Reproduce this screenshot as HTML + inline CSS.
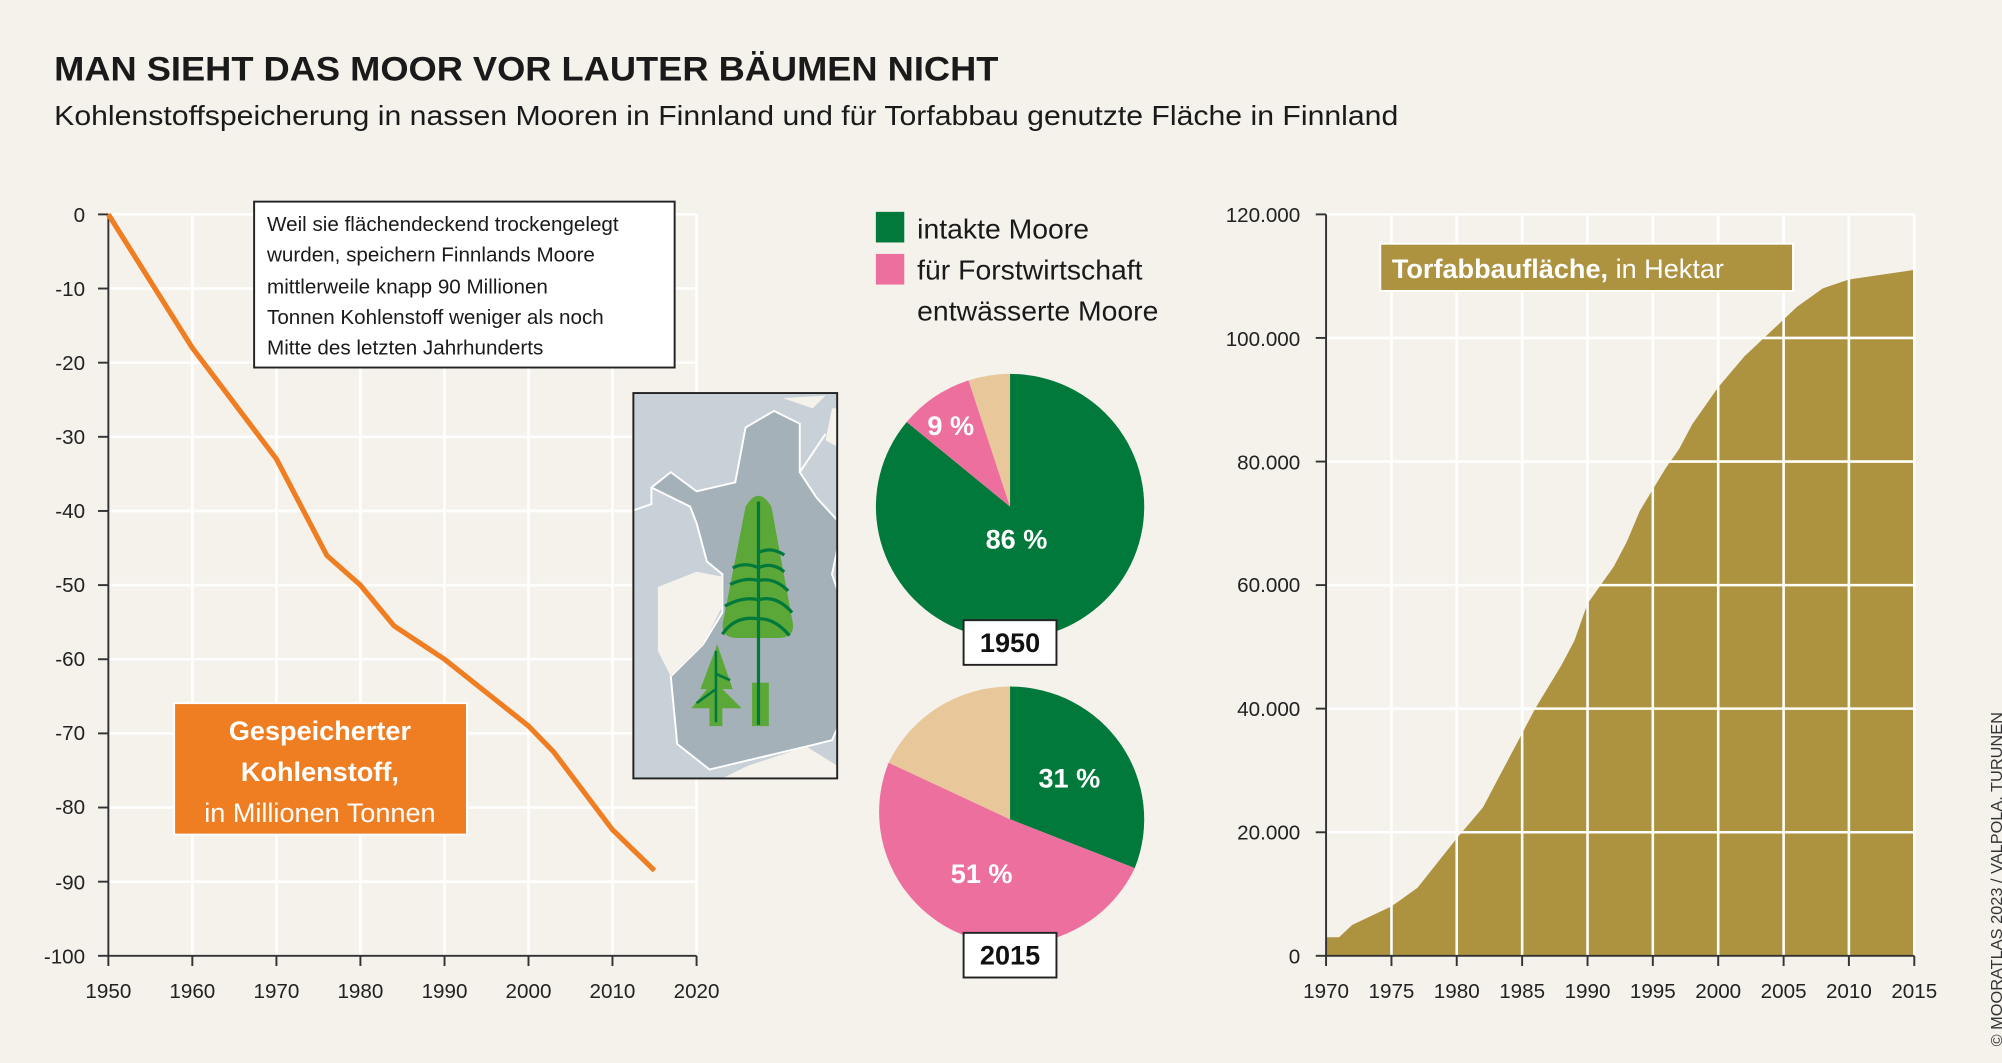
<!DOCTYPE html>
<html><head><meta charset="utf-8"><style>
html,body{margin:0;padding:0;background:#f5f2ec;}
svg{display:block;font-family:"Liberation Sans","DejaVu Sans",sans-serif;}
</style></head><body>
<svg width="2002" height="1063" viewBox="0 0 1552 833" preserveAspectRatio="none" xmlns="http://www.w3.org/2000/svg">
<defs><clipPath id="mc"><rect x="491" y="308" width="158" height="302"/></clipPath></defs>
<rect width="1552" height="833" fill="#f5f2ec"/>
<text x="42" y="63" font-size="27" font-weight="bold" fill="#1a1a1a" textLength="732" lengthAdjust="spacingAndGlyphs">MAN SIEHT DAS MOOR VOR LAUTER BÄUMEN NICHT</text>
<text x="42" y="98" font-size="22" fill="#1a1a1a" textLength="1042" lengthAdjust="spacingAndGlyphs">Kohlenstoffspeicherung in nassen Mooren in Finnland und für Torfabbau genutzte Fläche in Finnland</text>

<g stroke="#ffffff" stroke-width="2">
<line x1="149.1" y1="168" x2="149.1" y2="749"/><line x1="214.3" y1="168" x2="214.3" y2="749"/><line x1="279.4" y1="168" x2="279.4" y2="749"/><line x1="344.6" y1="168" x2="344.6" y2="749"/><line x1="409.7" y1="168" x2="409.7" y2="749"/><line x1="474.8" y1="168" x2="474.8" y2="749"/><line x1="540" y1="168" x2="540" y2="749"/>
<line x1="84" y1="168" x2="540" y2="168"/><line x1="84" y1="226.1" x2="540" y2="226.1"/><line x1="84" y1="284.2" x2="540" y2="284.2"/><line x1="84" y1="342.3" x2="540" y2="342.3"/><line x1="84" y1="400.4" x2="540" y2="400.4"/><line x1="84" y1="458.5" x2="540" y2="458.5"/><line x1="84" y1="516.6" x2="540" y2="516.6"/><line x1="84" y1="574.7" x2="540" y2="574.7"/><line x1="84" y1="632.8" x2="540" y2="632.8"/><line x1="84" y1="690.9" x2="540" y2="690.9"/>
</g>
<g stroke="#333" stroke-width="1.5">
<line x1="84" y1="168" x2="84" y2="757"/><line x1="84" y1="749" x2="540" y2="749"/>
<line x1="149.1" y1="749" x2="149.1" y2="757"/><line x1="214.3" y1="749" x2="214.3" y2="757"/><line x1="279.4" y1="749" x2="279.4" y2="757"/><line x1="344.6" y1="749" x2="344.6" y2="757"/><line x1="409.7" y1="749" x2="409.7" y2="757"/><line x1="474.8" y1="749" x2="474.8" y2="757"/><line x1="540" y1="749" x2="540" y2="757"/>
<line x1="76" y1="168" x2="84" y2="168"/><line x1="76" y1="226.1" x2="84" y2="226.1"/><line x1="76" y1="284.2" x2="84" y2="284.2"/><line x1="76" y1="342.3" x2="84" y2="342.3"/><line x1="76" y1="400.4" x2="84" y2="400.4"/><line x1="76" y1="458.5" x2="84" y2="458.5"/><line x1="76" y1="516.6" x2="84" y2="516.6"/><line x1="76" y1="574.7" x2="84" y2="574.7"/><line x1="76" y1="632.8" x2="84" y2="632.8"/><line x1="76" y1="690.9" x2="84" y2="690.9"/><line x1="76" y1="749" x2="84" y2="749"/>
</g>
<g font-size="16" fill="#222" text-anchor="end">
<text x="66" y="174">0</text><text x="66" y="232">-10</text><text x="66" y="290">-20</text><text x="66" y="348">-30</text><text x="66" y="406">-40</text><text x="66" y="464">-50</text><text x="66" y="522">-60</text><text x="66" y="580">-70</text><text x="66" y="638">-80</text><text x="66" y="697">-90</text><text x="66" y="755">-100</text>
</g>
<g font-size="16" fill="#222" text-anchor="middle">
<text x="84" y="782">1950</text><text x="149.1" y="782">1960</text><text x="214.3" y="782">1970</text><text x="279.4" y="782">1980</text><text x="344.6" y="782">1990</text><text x="409.7" y="782">2000</text><text x="474.8" y="782">2010</text><text x="540" y="782">2020</text>
</g>
<polyline fill="none" stroke="#ef7d22" stroke-width="4" stroke-linejoin="round" points="84,168 149.1,272.6 214.3,359.7 253.4,435.3 279.4,458.5 305.5,490.5 344.6,516.6 409.7,568.9 429.2,589.2 474.8,650.2 507.4,682.2"/>

<rect x="197" y="158" width="326" height="130" fill="#fff" stroke="#222" stroke-width="1.5"/>
<g font-size="16" fill="#1a1a1a">
<text x="207" y="181">Weil sie flächendeckend trockengelegt</text>
<text x="207" y="205">wurden, speichern Finnlands Moore</text>
<text x="207" y="230">mittlerweile knapp 90 Millionen</text>
<text x="207" y="254">Tonnen Kohlenstoff weniger als noch</text>
<text x="207" y="278">Mitte des letzten Jahrhunderts</text>
</g>

<rect x="135" y="551" width="227" height="103" fill="#ef7d22" stroke="#fff" stroke-width="1.5"/>
<g fill="#fff" text-anchor="middle" font-size="21">
<text x="248" y="580" font-weight="bold">Gespeicherter</text>
<text x="248" y="612" font-weight="bold">Kohlenstoff,</text>
<text x="248" y="644">in Millionen Tonnen</text>
</g>

<g clip-path="url(#mc)">
<rect x="491" y="308" width="158" height="302" fill="#c9d1d8"/>
<path d="M505,382 L520,370 L540,385 L570,378 L578,335 L600,322 L620,332 L620,370 L633,390 L653,412 L645,450 L662,500 L655,525 L665,535 L645,580 L625,585 L550,603 L525,583 L520,530 L545,505 L560,480 L560,450 L548,440 L540,410 L535,397 Z" fill="#a5b1b8" stroke="#fff" stroke-width="1.5"/>
<path d="M491,400 L505,395 L505,382" fill="none" stroke="#fff" stroke-width="1.5"/>
<path d="M620,370 L640,340" fill="none" stroke="#fff" stroke-width="1.5"/>
<path d="M510,460 L540,448 L560,452 L560,475 L545,505 L520,530 L510,510 Z" fill="#f5f2ec"/>
<path d="M640,345 L645,320 L649,320 L649,350 Z" fill="#f5f2ec"/>
<path d="M560,610 L580,600 L625,585 L649,600 L649,610 Z" fill="#f5f2ec"/>
<path d="M607,312 L630,320 L640,310 Z" fill="#f5f2ec"/>
<rect x="583" y="535" width="13" height="34" fill="#5ba838"/>
<path d="M578,397 Q588,380 598,397 L614,485 Q618,500 603,500 L572,500 Q557,500 561,485 Z" fill="#5ba838"/>
<line x1="588" y1="393" x2="588" y2="568" stroke="#00793b" stroke-width="2.5"/>
<g fill="none" stroke="#00793b" stroke-width="2.5">
<path d="M588,433 Q598,428 608,435"/><path d="M568,445 Q578,440 588,445 Q598,440 608,448"/><path d="M566,458 Q578,452 588,455 Q600,452 611,463"/><path d="M562,475 Q576,467 588,470 Q602,466 614,480"/><path d="M560,497 Q570,482 588,485 Q600,484 612,498"/>
</g>
<path d="M556,505 L568,540 L560,540 L575,555 L536,555 L548,540 L543,540 Z" fill="#5ba838"/>
<rect x="550" y="554" width="10" height="15" fill="#5ba838"/>
<g stroke="#00793b" stroke-width="2" fill="none"><line x1="555" y1="510" x2="555" y2="566"/><path d="M555,540 L540,551"/><path d="M555,528 L566,533"/></g>
</g>
<rect x="491" y="308" width="158" height="302" fill="none" stroke="#222" stroke-width="1.5"/>

<rect x="679" y="166" width="22" height="24" fill="#00793b"/>
<rect x="679" y="199" width="22" height="24" fill="#ed6f9e"/>
<g font-size="22" fill="#1a1a1a">
<text x="711" y="187">intakte Moore</text>
<text x="711" y="219">für Forstwirtschaft</text>
<text x="711" y="251">entwässerte Moore</text>
</g>

<path d="M783,397 L783,293 A104,104 0 1,1 702.9,330.7 Z" fill="#00793b"/>
<path d="M783,397 L702.9,330.7 A104,104 0 0,1 750.9,298.1 Z" fill="#ed6f9e"/>
<path d="M783,397 L750.9,298.1 A104,104 0 0,1 783,293 Z" fill="#e8c89b"/>
<text x="788" y="430" font-size="21" font-weight="bold" fill="#fff" text-anchor="middle">86 %</text>
<text x="737" y="341" font-size="21" font-weight="bold" fill="#fff" text-anchor="middle">9 %</text>
<rect x="747" y="486" width="72" height="35" fill="#fff" stroke="#222" stroke-width="1.5"/>
<text x="783" y="511" font-size="21" font-weight="bold" fill="#111" text-anchor="middle">1950</text>

<path d="M783,642 L783,538 A104,104 0 0,1 879.7,680.3 Z" fill="#00793b"/>
<path d="M783,642 L879.7,680.3 A104,104 0 0,1 688.9,597.7 Z" fill="#ed6f9e"/>
<path d="M783,642 L688.9,597.7 A104,104 0 0,1 783,538 Z" fill="#e8c89b"/>
<text x="829" y="617" font-size="21" font-weight="bold" fill="#fff" text-anchor="middle">31 %</text>
<text x="761" y="692" font-size="21" font-weight="bold" fill="#fff" text-anchor="middle">51 %</text>
<rect x="747" y="731" width="72" height="35" fill="#fff" stroke="#222" stroke-width="1.5"/>
<text x="783" y="756" font-size="21" font-weight="bold" fill="#111" text-anchor="middle">2015</text>

<polygon fill="#ad9240" points="1028,749 1028,734.5 1038.1,734.5 1048.3,724.8 1078.7,710.3 1098.9,695.7 1129.3,657 1149.6,632.8 1159.7,613.4 1180,574.7 1190.1,555.3 1210.4,521.4 1220.5,502.1 1230.7,473 1251,444 1261.1,424.6 1271.2,400.4 1291.5,366.5 1301.6,352 1311.8,332.6 1332,303.5 1352.3,279.3 1372.6,260 1392.9,240.6 1413.1,226 1433.3,219 1484,211.5 1484,749"/>
<g stroke="#ffffff" stroke-width="2">
<line x1="1078.7" y1="168" x2="1078.7" y2="749"/><line x1="1129.3" y1="168" x2="1129.3" y2="749"/><line x1="1180" y1="168" x2="1180" y2="749"/><line x1="1230.7" y1="168" x2="1230.7" y2="749"/><line x1="1281.3" y1="168" x2="1281.3" y2="749"/><line x1="1332" y1="168" x2="1332" y2="749"/><line x1="1382.7" y1="168" x2="1382.7" y2="749"/><line x1="1433.3" y1="168" x2="1433.3" y2="749"/><line x1="1484" y1="168" x2="1484" y2="749"/>
<line x1="1028" y1="168" x2="1484" y2="168"/><line x1="1028" y1="264.8" x2="1484" y2="264.8"/><line x1="1028" y1="361.7" x2="1484" y2="361.7"/><line x1="1028" y1="458.5" x2="1484" y2="458.5"/><line x1="1028" y1="555.3" x2="1484" y2="555.3"/><line x1="1028" y1="652.2" x2="1484" y2="652.2"/>
</g>
<g stroke="#333" stroke-width="1.5">
<line x1="1028" y1="168" x2="1028" y2="757"/><line x1="1028" y1="749" x2="1484" y2="749"/>
<line x1="1020" y1="168" x2="1028" y2="168"/><line x1="1020" y1="264.8" x2="1028" y2="264.8"/><line x1="1020" y1="361.7" x2="1028" y2="361.7"/><line x1="1020" y1="458.5" x2="1028" y2="458.5"/><line x1="1020" y1="555.3" x2="1028" y2="555.3"/><line x1="1020" y1="652.2" x2="1028" y2="652.2"/><line x1="1020" y1="749" x2="1028" y2="749"/>
<line x1="1078.7" y1="749" x2="1078.7" y2="757"/><line x1="1129.3" y1="749" x2="1129.3" y2="757"/><line x1="1180" y1="749" x2="1180" y2="757"/><line x1="1230.7" y1="749" x2="1230.7" y2="757"/><line x1="1281.3" y1="749" x2="1281.3" y2="757"/><line x1="1332" y1="749" x2="1332" y2="757"/><line x1="1382.7" y1="749" x2="1382.7" y2="757"/><line x1="1433.3" y1="749" x2="1433.3" y2="757"/><line x1="1484" y1="749" x2="1484" y2="757"/>
</g>
<g font-size="16" fill="#222" text-anchor="end">
<text x="1008" y="174">120.000</text><text x="1008" y="271">100.000</text><text x="1008" y="368">80.000</text><text x="1008" y="464">60.000</text><text x="1008" y="561">40.000</text><text x="1008" y="658">20.000</text><text x="1008" y="755">0</text>
</g>
<g font-size="16" fill="#222" text-anchor="middle">
<text x="1028" y="782">1970</text><text x="1078.7" y="782">1975</text><text x="1129.3" y="782">1980</text><text x="1180" y="782">1985</text><text x="1230.7" y="782">1990</text><text x="1281.3" y="782">1995</text><text x="1332" y="782">2000</text><text x="1382.7" y="782">2005</text><text x="1433.3" y="782">2010</text><text x="1484" y="782">2015</text>
</g>
<rect x="1070" y="191" width="320" height="37" fill="#ad9240" stroke="#fff" stroke-width="1.5"/>
<text x="1079" y="218" font-size="21" fill="#fff"><tspan font-weight="bold">Torfabbaufläche,</tspan> in Hektar</text>

<text transform="translate(1552,820) rotate(-90)" font-size="12" fill="#333" textLength="262" lengthAdjust="spacingAndGlyphs">© MOORATLAS 2023 / VALPOLA, TURUNEN</text>
</svg>
</body></html>
